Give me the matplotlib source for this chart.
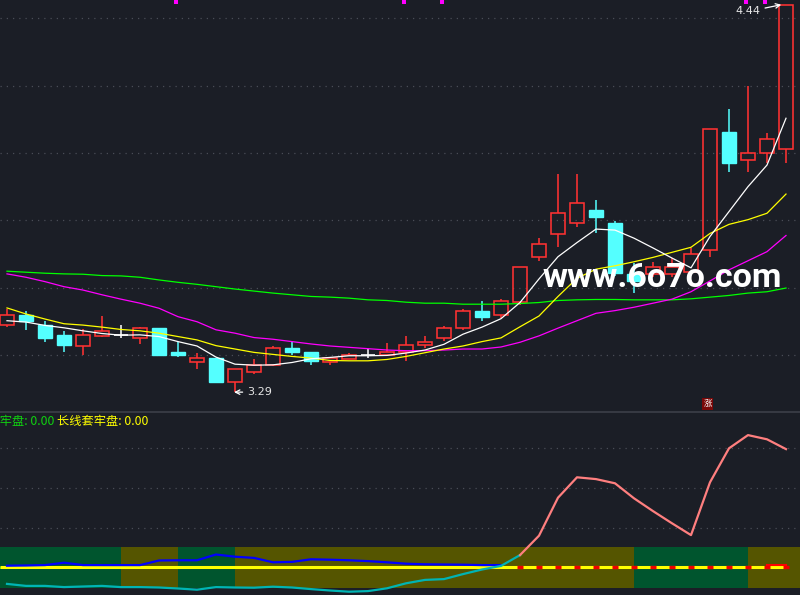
import numpy as np
import matplotlib
matplotlib.use('Agg')
import matplotlib.pyplot as plt
from matplotlib.patches import Rectangle
import matplotlib.transforms as mtransforms

plt.rcParams['font.family'] = ['Noto Sans CJK SC', 'DejaVu Sans']

# --- price data ---
opens = [3.489, 3.519, 3.490, 3.460, 3.428, 3.458, 3.459, 3.450, 3.481, 3.410,
         3.379, 3.392, 3.320, 3.349, 3.371, 3.421, 3.409, 3.378, 3.389, 3.399,
         3.400, 3.410, 3.429, 3.450, 3.479, 3.531, 3.518, 3.558, 3.690, 3.759,
         3.791, 3.831, 3.792, 3.641, 3.640, 3.640, 3.648, 3.711, 4.062, 3.980,
         3.999, 4.011]
highs = [3.536, 3.531, 3.502, 3.472, 3.477, 3.517, 3.490, 3.484, 3.481, 3.440,
         3.406, 3.392, 3.358, 3.388, 3.427, 3.440, 3.409, 3.393, 3.406, 3.418,
         3.436, 3.456, 3.456, 3.487, 3.537, 3.560, 3.567, 3.661, 3.748, 3.938,
         3.938, 3.861, 3.799, 3.674, 3.677, 3.689, 3.717, 4.070, 4.131, 4.200,
         4.059, 4.440]
lows = [3.483, 3.473, 3.440, 3.410, 3.401, 3.455, 3.452, 3.432, 3.401, 3.393,
        3.359, 3.321, 3.290, 3.343, 3.369, 3.401, 3.371, 3.371, 3.387, 3.392,
        3.396, 3.381, 3.422, 3.441, 3.473, 3.502, 3.509, 3.550, 3.680, 3.722,
        3.781, 3.762, 3.636, 3.584, 3.633, 3.633, 3.643, 3.692, 3.942, 3.942,
        3.969, 3.971]
closes = [3.518, 3.502, 3.452, 3.431, 3.460, 3.472, 3.459, 3.481, 3.401, 3.401,
          3.391, 3.321, 3.358, 3.370, 3.420, 3.410, 3.381, 3.391, 3.400, 3.399,
          3.410, 3.429, 3.438, 3.480, 3.530, 3.512, 3.560, 3.661, 3.729, 3.821,
          3.851, 3.811, 3.643, 3.621, 3.661, 3.661, 3.699, 4.070, 3.971, 4.000,
          4.041, 4.440]

ma5 = [3.502, 3.498, 3.488, 3.481, 3.472, 3.464, 3.459, 3.460, 3.455, 3.440,
       3.427, 3.394, 3.373, 3.370, 3.371, 3.378, 3.389, 3.393, 3.398, 3.398,
       3.399, 3.406, 3.415, 3.432, 3.462, 3.483, 3.508, 3.556, 3.626, 3.692,
       3.734, 3.774, 3.771, 3.747, 3.718, 3.688, 3.659, 3.752, 3.826, 3.900,
       3.964, 4.103]
ma10 = [3.540, 3.522, 3.507, 3.493, 3.489, 3.483, 3.476, 3.472, 3.465, 3.455,
        3.445, 3.428, 3.418, 3.408, 3.402, 3.396, 3.391, 3.384, 3.383, 3.383,
        3.387, 3.396, 3.407, 3.418, 3.427, 3.440, 3.451, 3.484, 3.516, 3.574,
        3.628, 3.655, 3.665, 3.677, 3.690, 3.705, 3.720, 3.761, 3.788, 3.802,
        3.821, 3.878]
ma20 = [3.641, 3.631, 3.618, 3.603, 3.593, 3.579, 3.566, 3.554, 3.539, 3.514,
        3.499, 3.475, 3.465, 3.452, 3.447, 3.440, 3.433, 3.427, 3.423, 3.419,
        3.415, 3.413, 3.413, 3.415, 3.418, 3.418, 3.424, 3.438, 3.457, 3.480,
        3.502, 3.524, 3.532, 3.542, 3.554, 3.566, 3.588, 3.620, 3.653, 3.680,
        3.707, 3.755]
ma60 = [3.649, 3.646, 3.643, 3.641, 3.640, 3.636, 3.635, 3.631, 3.623, 3.616,
        3.610, 3.603, 3.596, 3.590, 3.584, 3.579, 3.574, 3.572, 3.569, 3.564,
        3.562, 3.557, 3.554, 3.554, 3.551, 3.551, 3.551, 3.553, 3.556, 3.562,
        3.564, 3.565, 3.565, 3.564, 3.564, 3.564, 3.567, 3.572, 3.577, 3.584,
        3.588, 3.599]

signal_idx = [9, 21, 23, 39, 40]   # magenta marks at the top
rise_idx = 37                      # "涨" tag

# --- lower indicator ---
trap_line = [-3.9, -4.4, -4.4, -4.7, -4.55, -4.4, -4.7, -4.7, -4.8, -5.05,
             -5.35, -4.7, -4.8, -4.85, -4.6, -4.8, -5.2, -5.55, -5.85, -5.7,
             -5.0, -3.75, -2.9, -2.7, -1.45, -0.3, 0.6, 3.3, 8.15, 17.65,
             22.75, 22.3, 21.25, 17.5, 14.3, 11.25, 8.3, 21.5, 30.0, 33.3,
             32.25, 29.8]
blue_line = [0.65, 0.7, 0.8, 1.4, 0.8, 0.8, 0.8, 0.8, 1.95, 2.0, 2.0, 3.45,
             2.9, 2.6, 1.5, 1.6, 2.25, 2.15, 2.0, 1.8, 1.5, 1.15, 1.0, 0.95,
             0.9, 0.8, 0.8]
switch_idx = 27          # where the line turns from cyan to salmon
yellow_level = 0.3
green_level = 0.0
red_tail = [0.85, 0.85]  # short red piece on the last two bars
band_edges = [6, 9, 12, 33, 39]
band_lo, band_hi = -4.85, 5.4
short_trap = '短线套牢盘: 0.00'
long_trap = '长线套牢盘: 0.00'

BG = '#1b1e26'
RED = '#ff3232'
CYAN = '#54ffff'
GRID = '#4a4d56'
W, H = 800, 595

fig = plt.figure(figsize=(W / 100, H / 100), dpi=100, facecolor=BG)
ax = fig.add_axes([0, 1 - 411 / H, 1, 411 / H], facecolor=BG)
ax2 = fig.add_axes([0, 0, 1, 183 / H], facecolor=BG)

n = len(closes)
xs = np.arange(n)
xlim = (-7 / 19, 793 / 19)

for a in (ax, ax2):
    a.set_xlim(*xlim)
    a.tick_params(length=0, labelleft=False, labelbottom=False)
    for s in a.spines.values():
        s.set_visible(False)

ax.set_ylim(3.234, 4.454)
ax.set_yticks([3.4, 3.6, 3.8, 4.0, 4.2, 4.4])
ax.grid(axis='y', color=GRID, linestyle=(0, (1, 4)), lw=0.9)
ax.set_axisbelow(True)

# candles
bw = 0.78
for i in xs:
    o, h, l, c = opens[i], highs[i], lows[i], closes[i]
    top, bot = max(o, c), min(o, c)
    if abs(c - o) < 0.002:
        ax.vlines(i, l, h, color='white', lw=1.1, zorder=2)
        ax.hlines(c, i - bw / 2, i + bw / 2, color='white', lw=1.2, zorder=2)
    elif c > o:
        ax.add_patch(Rectangle((i - bw / 2, bot), bw, top - bot, facecolor='none',
                               edgecolor=RED, lw=1.15, zorder=2))
        ax.vlines(i, top, h, color=RED, lw=1.15, zorder=2)
        ax.vlines(i, l, bot, color=RED, lw=1.15, zorder=2)
    else:
        ax.vlines(i, l, h, color=CYAN, lw=1.1, zorder=2)
        ax.add_patch(Rectangle((i - bw / 2, bot), bw, top - bot, facecolor=CYAN,
                               edgecolor=CYAN, lw=1.0, zorder=2))

ax.plot(xs, ma60, color='#00ff00', lw=0.9, zorder=4)
ax.plot(xs, ma20, color='#ff00ff', lw=0.9, zorder=4)
ax.plot(xs, ma10, color='#ffff00', lw=0.9, zorder=4)
ax.plot(xs, ma5, color='white', lw=0.9, zorder=4)

# top signal marks
trans = mtransforms.blended_transform_factory(ax.transData, ax.transAxes)
ax.plot(np.array(signal_idx) - 0.1, [0.994] * len(signal_idx), 's',
        color='#ff00ff', ms=2.4, mew=0, transform=trans, zorder=5, clip_on=False)

# min / max annotations
imin = int(np.argmin(lows))
imax = int(np.argmax(highs))
ax.annotate('%.2f' % lows[imin], xy=(imin - 0.05, lows[imin]),
            xytext=(imin + 0.62, lows[imin]), va='center', ha='left',
            color='#e6e6e6', fontsize=8, family='DejaVu Sans',
            arrowprops=dict(arrowstyle='->', color='white', lw=0.9,
                            shrinkA=1, shrinkB=0), zorder=6)
ax.annotate('%.2f' % highs[imax], xy=(imax - 0.25, highs[imax]),
            xytext=(imax - 1.32, highs[imax] - 0.02), va='center', ha='right',
            color='#e6e6e6', fontsize=8, family='DejaVu Sans',
            arrowprops=dict(arrowstyle='->', color='white', lw=0.9,
                            shrinkA=1, shrinkB=0), zorder=6)

ax.text(rise_idx - 0.13, 3.255, '涨', color='white', fontsize=6, ha='center',
        va='center', zorder=6,
        bbox=dict(boxstyle='square,pad=0.15', facecolor='#7a0808', edgecolor='none'))

# watermark
fig.text(543 / W, 1 - 278 / H, 'www.6o7o.com', color='white', fontsize=24.6,
         fontweight='bold', family='Roboto', ha='left', va='center', zorder=10)

# --- lower panel ---
ax2.set_ylim(-6.675, 39.075)
ax2.set_yticks([10, 20, 30])
ax2.grid(axis='y', color=GRID, linestyle=(0, (1, 4)), lw=0.9)
ax2.set_axisbelow(True)
ax2.spines['top'].set_visible(True)
ax2.spines['top'].set_color('#3c3f48')
ax2.spines['top'].set_linewidth(1.2)

edges = [xlim[0]] + band_edges + [xlim[1]]
for k in range(len(edges) - 1):
    col = '#00552e' if k % 2 == 0 else '#555500'
    ax2.fill_between([edges[k], edges[k + 1]], band_lo, band_hi, color=col,
                     lw=0, zorder=1)

ax2.hlines(green_level, xlim[0], switch_idx, color='#00ff00', lw=1.1, zorder=3)
ax2.hlines(yellow_level, xlim[0], n - 1, color='#ffff00', lw=2.2, zorder=3)
ax2.plot(np.arange(len(blue_line)), blue_line, color='#0000ff', lw=1.6, zorder=4)
for i in range(switch_idx, n):
    ax2.hlines(yellow_level, i - 0.17, i + 0.17, color='#ee0000', lw=2.4, zorder=5)
ax2.plot([n - 2, n - 1], red_tail, color='#ff0000', lw=1.5, zorder=5)

ax2.plot(xs[:switch_idx + 1], trap_line[:switch_idx + 1], color='#00b4b4',
         lw=1.6, zorder=4)
ax2.plot(xs[switch_idx:], trap_line[switch_idx:], color='#ff7f7f', lw=1.6, zorder=4)

fig.text(-37 / W, 1 - 421 / H, short_trap, color='#10d010', fontsize=8.8,
         ha='left', va='center')
fig.text(57 / W, 1 - 421 / H, long_trap, color='#ffff00', fontsize=8.8,
         ha='left', va='center')

fig.savefig('out.png', dpi=100, facecolor=BG)
